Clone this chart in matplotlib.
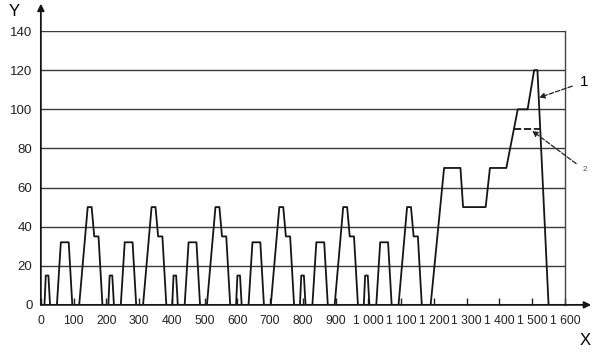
import numpy as np
import matplotlib
matplotlib.use("Agg")
import matplotlib.pyplot as plt

plt.rcParams["font.family"] = ["Liberation Sans", "DejaVu Sans"]

# one urban cycle (195 s), repeated 6 times
ece_t = [0, 11, 15, 23, 28, 49, 61, 85, 96, 117, 143, 155, 163, 176, 188, 195]
ece_v = [0, 0, 15, 15, 0, 0, 32, 32, 0, 0, 50, 50, 35, 35, 0, 0]
n_ece = 6
ece_len = 195

# extra-urban part, time relative to its start
eudc_t = [0, 20, 61, 111, 119, 188, 201, 251, 286, 316, 336, 346, 380, 400]
eudc_v = [0, 0, 70, 70, 50, 50, 70, 70, 100, 100, 120, 120, 0, 0]

# curve 2: limited to 90 km/h (only the part that differs)
c2_t = [1444, 1524]
c2_v = [90, 90]

xticks = list(range(0, 1700, 100))
xlabels = ["0", "100", "200", "300", "400", "500", "600", "700", "800", "900",
           "1 000", "1 100", "1 200", "1 300", "1 400", "1 500", "1 600"]
yticks = [0, 20, 40, 60, 80, 100, 120, 140]

t = []
v = []
for k in range(n_ece):
    t += [x + k * ece_len for x in ece_t]
    v += ece_v
start = n_ece * ece_len
t += [x + start for x in eudc_t]
v += eudc_v

fig = plt.figure(figsize=(6.01, 3.57), dpi=100)
ax = fig.add_axes([0.068, 0.146, 0.872, 0.767])

for y in yticks[1:]:
    ax.axhline(y, color="#3a3a3a", lw=1.0, zorder=1)

ax.plot(t, v, color="#151515", lw=1.3, zorder=3)
ax.plot(c2_t, c2_v, color="#151515", lw=1.3, ls=(0, (4, 1.5)), zorder=3)

ax.set_xlim(0, 1600)
ax.set_ylim(0, 140)
ax.set_xticks(xticks)
ax.set_xticklabels(xlabels, fontsize=8.7, color="#222")
ax.set_yticks(yticks)
ax.set_yticklabels([str(y) for y in yticks], fontsize=9.5, color="#222")
ax.tick_params(axis="x", direction="in", length=5, width=1, pad=7, color="#222")
ax.tick_params(axis="y", length=0, pad=6)

ax.spines["top"].set_visible(False)
ax.spines["left"].set_visible(False)
ax.spines["bottom"].set_visible(False)
ax.spines["right"].set_color("#444")
ax.spines["right"].set_linewidth(1.0)
ax.spines["right"].set_linestyle((0, (6, 1)))

# axes drawn as arrows
ax.annotate("", xy=(0, 154), xytext=(0, 0),
            arrowprops=dict(arrowstyle="-|>", color="#151515", lw=1.3,
                            mutation_scale=10, shrinkA=0, shrinkB=0),
            annotation_clip=False)
ax.annotate("", xy=(1680, 0), xytext=(0, 0),
            arrowprops=dict(arrowstyle="-|>", color="#151515", lw=1.3,
                            mutation_scale=10, shrinkA=0, shrinkB=0),
            annotation_clip=False)

ax.text(-80, 150, "Y", fontsize=12, ha="center", va="center", clip_on=False)
ax.text(1661, -18, "X", fontsize=12, ha="center", va="center", clip_on=False)

# curve labels
ax.annotate("1", xy=(1521, 106), xytext=(1660, 114), fontsize=11,
            ha="center", va="center",
            arrowprops=dict(arrowstyle="-|>", color="#222", lw=0.9, ls="--",
                            mutation_scale=8, shrinkA=4, shrinkB=0),
            annotation_clip=False)
ax.annotate("2", xy=(1500, 89), xytext=(1660, 69), fontsize=6, color="#555",
            ha="center", va="center",
            arrowprops=dict(arrowstyle="-|>", color="#222", lw=0.9, ls="--",
                            mutation_scale=8, shrinkA=3, shrinkB=0),
            annotation_clip=False)

fig.savefig("out.png", dpi=100)
